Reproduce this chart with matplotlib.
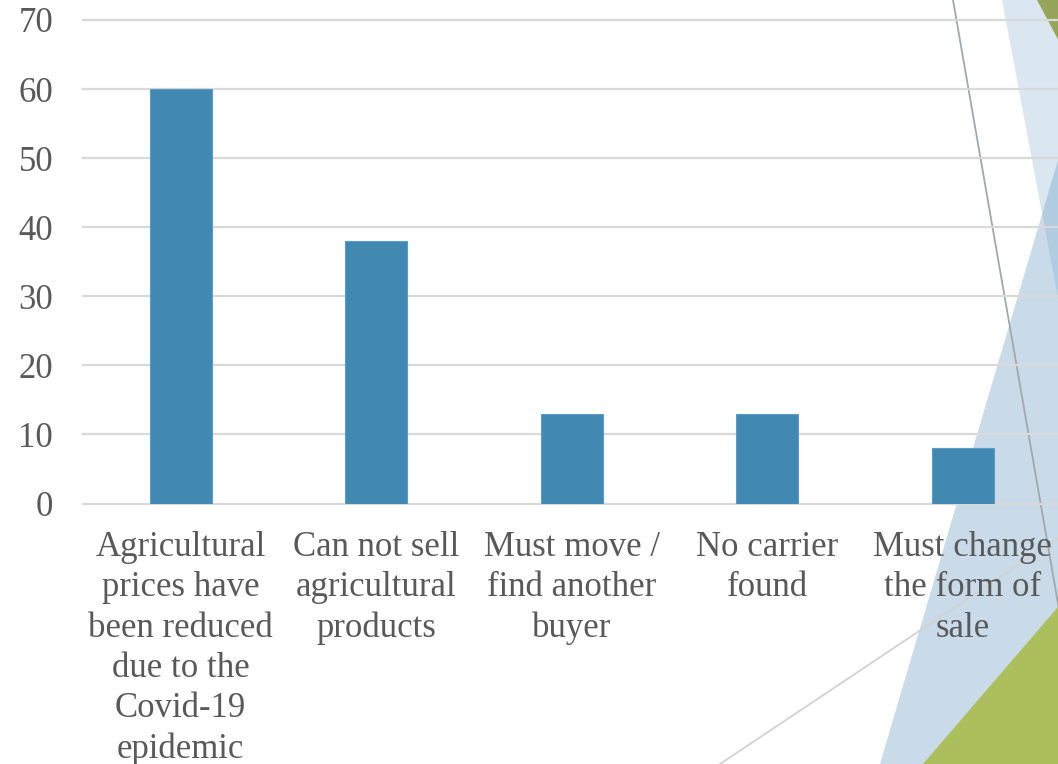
import matplotlib
matplotlib.use("Agg")
import matplotlib.pyplot as plt
from matplotlib.patches import Polygon
from matplotlib.lines import Line2D

categories = [
    "Agricultural\nprices have\nbeen reduced\ndue to the\nCovid-19\nepidemic",
    "Can not sell\nagricultural\nproducts",
    "Must move /\nfind another\nbuyer",
    "No carrier\nfound",
    "Must change\nthe form of\nsale",
]
values = [60, 38, 13, 13, 8]
y_ticks = [0, 10, 20, 30, 40, 50, 60, 70]

W, H = 1058, 764
plt.rcParams["font.family"] = ["Liberation Serif", "DejaVu Serif"]
fig = plt.figure(figsize=(W / 100, H / 100), dpi=100)
fig.patch.set_facecolor("white")


def px(points):
    """Convert pixel coordinates (origin top-left) to figure fractions."""
    return [(x / W, 1 - y / H) for x, y in points]


# Decorative slide theme shapes on the right edge
deco = [
    (px([(1002, 0), (1070, 0), (1070, 362)]), "#598fbe", 0.22),
    (px([(880, 764), (1058, 160), (1070, 120), (1070, 764)]), "#6a9cc4", 0.36),
    (px([(1037, 0), (1070, 0), (1070, 62)]), "#97a55a", 1.0),
    (px([(923, 764), (1058, 607), (1070, 597), (1070, 764)]), "#adbf5c", 1.0),
]
for pts, col, a in deco:
    fig.patches.append(Polygon(pts, closed=True, facecolor=col, edgecolor="none",
                               alpha=a, transform=fig.transFigure, zorder=-5))

for (x0, y0), (x1, y1), col in [((953, 0), (1060, 615), "#a3a8ab"),
                                 ((720, 764), (1060, 537), "#d2d2d2")]:
    (fx0, fy0), (fx1, fy1) = px([(x0, y0), (x1, y1)])
    fig.lines.append(Line2D([fx0, fx1], [fy0, fy1], color=col, lw=1.3,
                            transform=fig.transFigure, zorder=-4))

ax = fig.add_axes([83 / W, 1 - 503.5 / H, (1060.5 - 83) / W, (503.5 - 20) / H])
ax.patch.set_visible(False)

x = list(range(len(categories)))
ax.bar(x, values, width=0.317, color="#4189b3", edgecolor="#5c9cc4", linewidth=0.8, zorder=3)

ax.set_xlim(-0.5, len(categories) - 0.5)
ax.set_ylim(0, 70)
ax.set_yticks(y_ticks)
ax.set_xticks(x)
ax.set_xticklabels(categories, linespacing=1.285, ha="center", va="top")

ax.grid(axis="y", color="#d9d9d9", linewidth=1.6, zorder=0)
ax.set_axisbelow(True)
for s in ax.spines.values():
    s.set_visible(False)

ax.tick_params(axis="y", length=0, pad=21.5, labelsize=25, labelcolor="#595959")
ax.tick_params(axis="x", length=0, pad=20, labelsize=25, labelcolor="#595959")
for gl in ax.get_ygridlines():
    gl.set_clip_on(False)

fig.savefig("out.png", dpi=100)
